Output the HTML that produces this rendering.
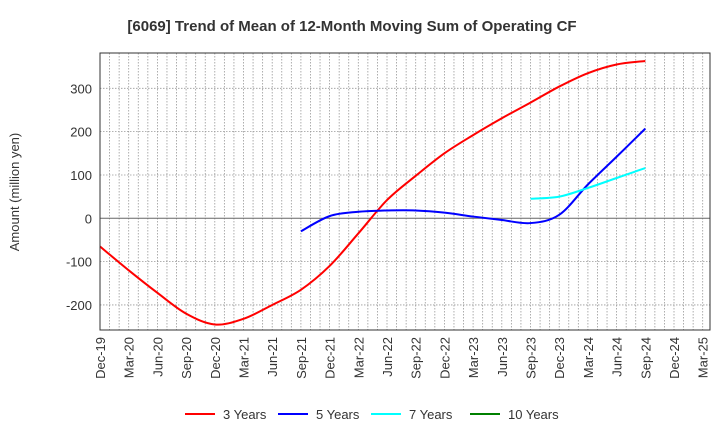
<!DOCTYPE html>
<html><head><meta charset="utf-8"><style>
body{margin:0;background:#fff;font-family:"Liberation Sans",sans-serif}
svg text{font-family:"Liberation Sans",sans-serif}
</style></head><body>
<svg id="c" width="720" height="440" viewBox="0 0 720 440" xmlns="http://www.w3.org/2000/svg">
<text x="352" y="31" text-anchor="middle" font-size="15" font-weight="bold" fill="#333">[6069]  Trend of Mean of 12-Month Moving Sum of Operating CF</text>
<text transform="translate(19,192) rotate(-90)" text-anchor="middle" font-size="13" fill="#333">Amount (million yen)</text>
<g id="grid"></g><g id="series"></g><g id="axes"></g><g id="legend"></g>
</svg>
<script>
const xLabels=["Dec-19","Mar-20","Jun-20","Sep-20","Dec-20","Mar-21","Jun-21","Sep-21","Dec-21","Mar-22","Jun-22","Sep-22","Dec-22","Mar-23","Jun-23","Sep-23","Dec-23","Mar-24","Jun-24","Sep-24","Dec-24","Mar-25"];
const yTicks=[-200,-100,0,100,200,300];
const seriesNames=["3 Years","5 Years","7 Years","10 Years"];
const seriesColors=["#ff0000","#0000ff","#00ffff","#008000"];
const s3=[-65,-120,-172,-220,-245,-232,-200,-165,-110,-35,42,98,150,192,231,267,304,335,355,363];
const s5=[null,null,null,null,null,null,null,-30,5,15,18,18,13,4,-4,-11,8,78,142,207];
const s7=[null,null,null,null,null,null,null,null,null,null,null,null,null,null,null,45,50,70,93,116];
const s10=[];
const L=100,R=710,T=53,B=330;
const qW=28.7;
const X=i=>100+i*qW;
const Y=v=>218.3-v*0.4333;
const NS="http://www.w3.org/2000/svg";
function mk(tag,attrs,parent){const e=document.createElementNS(NS,tag);for(const k in attrs)e.setAttribute(k,attrs[k]);parent.appendChild(e);return e;}
const grid=document.getElementById('grid'),axes=document.getElementById('axes'),ser=document.getElementById('series'),leg=document.getElementById('legend');
for(let m=0;m<=66;m++){const x=100+m*qW/3;if(x>R-1)break;
 const l=mk('line',{x1:x,x2:x,y1:T,y2:B,stroke:'#999','stroke-width':0.8,'stroke-dasharray':'1.5,1.5'},grid);
 
 }
yTicks.forEach(v=>{const y=Y(v);
 const l=mk('line',{x1:L,x2:R,y1:y,y2:y,stroke:v===0?'#666':'#999','stroke-width':v===0?1:0.8,'stroke-dasharray':v===0?'':'1.5,1.5'},grid);
 
 
 const t=mk('text',{x:L-8,y:y+5,'text-anchor':'end','font-size':13,fill:'#333'},axes);t.textContent=v;
 
 });
const fr=mk('rect',{x:L,y:T,width:R-L,height:B-T,fill:'none',stroke:'#333','stroke-width':1},axes);


xLabels.forEach((s,i)=>{const x=X(i);
 const t=mk('text',{transform:`translate(${x+5},337) rotate(-90)`,'text-anchor':'end','font-size':13,fill:'#333'},axes);t.textContent=s;
 
 });
function path(arr){const p=[];arr.forEach((v,i)=>{if(v!==null&&v!==undefined)p.push([X(i),Y(v)]);});
 if(p.length<2)return '';let d=`M${p[0][0]},${p[0][1]}`;
 for(let i=0;i<p.length-1;i++){const p0=p[i-1]||p[i],p1=p[i],p2=p[i+1],p3=p[i+2]||p2;
  const c1=[p1[0]+(p2[0]-p0[0])/6,p1[1]+(p2[1]-p0[1])/6],c2=[p2[0]-(p3[0]-p1[0])/6,p2[1]-(p3[1]-p1[1])/6];
  d+=` C${c1[0]},${c1[1]} ${c2[0]},${c2[1]} ${p2[0]},${p2[1]}`;}
 return d;}
[s3,s5,s7,s10].forEach((a,k)=>{const d=path(a);if(!d)return;
 const e=mk('path',{d:d,fill:'none',stroke:seriesColors[k],'stroke-width':2},ser);
 
 });
const lx=[185,278,371,470];
seriesNames.forEach((n,k)=>{
 const g=mk('g',{},leg);
 
 
 mk('line',{x1:lx[k],x2:lx[k]+30,y1:414,y2:414,stroke:seriesColors[k],'stroke-width':2},g);
 const t=mk('text',{x:lx[k]+38,y:419,'font-size':13,fill:'#333'},g);t.textContent=n;});
</script>
</body></html>
